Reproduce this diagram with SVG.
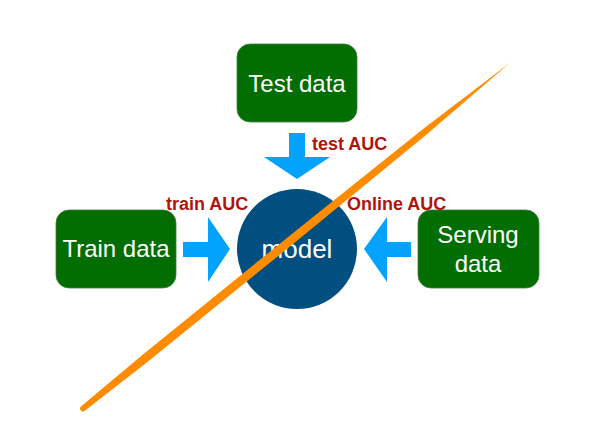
<svg xmlns="http://www.w3.org/2000/svg" width="594" height="435" viewBox="0 0 594 435">
<style>
.box{fill:#026d00;stroke:#3f7f3f;stroke-width:0.8}
.bt{font-family:"Liberation Sans",Arial,sans-serif;font-size:24px;fill:#ffffff;text-anchor:middle}
.lbl{font-family:"Liberation Sans",Arial,sans-serif;font-size:18px;font-weight:bold;fill:#ad150c}
.arr{fill:#03a2fd}
</style>
<rect width="594" height="435" fill="#ffffff"/>
<g id="test-data">
<rect class="box" x="237" y="44" width="120" height="78" rx="13"/>
<text class="bt" x="297" y="92">Test data</text>
</g>
<g id="train-data">
<rect class="box" x="56" y="210" width="120" height="78" rx="13"/>
<text class="bt" x="116" y="257">Train data</text>
</g>
<g id="serving-data">
<rect class="box" x="418" y="210" width="121" height="78" rx="13"/>
<text class="bt" x="478" y="243">Serving</text>
<text class="bt" x="478" y="272">data</text>
</g>
<g id="model">
<circle cx="297" cy="249" r="60" fill="#014f80"/>
<text class="bt" x="297" y="258" style="font-size:26px">model</text>
</g>
<g id="connectors">
<polygon class="arr" points="289,133 305,133 305,157 330,157 297,179 264,157 289,157"/>
<polygon class="arr" points="183,242 208,242 208,217 230,249 208,282 208,257 183,257"/>
<polygon class="arr" points="411,242 387,242 387,217 364,249 387,282 387,257 411,257"/>
<text class="lbl" x="312" y="150">test AUC</text>
<text class="lbl" x="166" y="210">train AUC</text>
<text class="lbl" x="347" y="210">Online AUC</text>
</g>
<path id="strike" fill="#ff8c00" d="M81.2,406.3 A2.8,2.8 0 0 0 84.8,410.7 L147.4,362 L298.2,239.8 L426.9,134.3 L511,62 L422.7,129.3 L292.8,233.2 L142,355.3 Z"/>
</svg>
